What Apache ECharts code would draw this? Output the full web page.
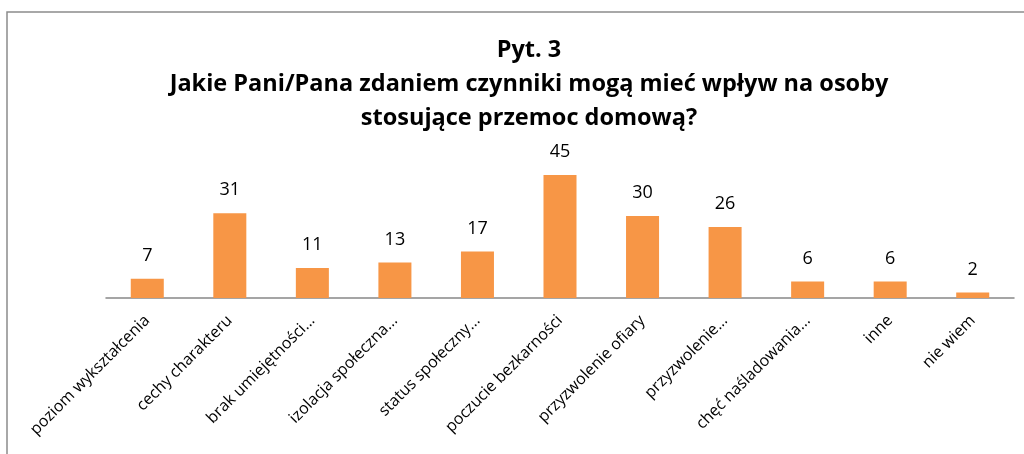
<!DOCTYPE html>
<html>
<head>
<meta charset="utf-8">
<script src="https://cdn.jsdelivr.net/npm/echarts@6/dist/echarts.min.js"></script>
<style>
  html, body { margin: 0; padding: 0; background: #fff; }
  #chart { width: 1024px; height: 454px; }
</style>
</head>
<body>
<div id="chart"></div>
<script>
// kategorie odpowiedzi
const categories = [
  "poziom wykształcenia",
  "cechy charakteru",
  "brak umiejętności...",
  "izolacja społeczna...",
  "status społeczny...",
  "poczucie bezkarności",
  "przyzwolenie ofiary",
  "przyzwolenie...",
  "chęć naśladowania...",
  "inne",
  "nie wiem"
];
// liczba odpowiedzi
const values = [7, 31, 11, 13, 17, 45, 30, 26, 6, 6, 2];

const titleLines = [
  "Pyt. 3",
  "Jakie Pani/Pana zdaniem czynniki mogą mieć wpływ na osoby",
  "stosujące przemoc domową?"
];

const chart = echarts.init(document.getElementById("chart"));
const font = "'Open Sans', sans-serif";

chart.setOption({
  animation: false,
  title: {
    text: titleLines.join("\n"),
    left: 524,
    top: 28,
    textAlign: "center",
    textStyle: {
      fontFamily: font,
      fontSize: 23.5,
      fontWeight: "bold",
      color: "#000",
      lineHeight: 34
    }
  },
  graphic: [{
    type: "rect",
    shape: { x: 7, y: 12, width: 1100, height: 600 },
    style: { fill: null, stroke: "#8c8c8c", lineWidth: 1.5 },
    silent: true
  }],
  grid: {
    left: 106,
    right: 10,
    top: 175,
    bottom: 156
  },
  xAxis: {
    type: "category",
    data: categories,
    axisTick: { show: false },
    axisLine: { lineStyle: { color: "#888", width: 1.5 } },
    axisLabel: {
      rotate: 45,
      interval: 0,
      margin: 20,
      fontFamily: font,
      fontSize: 16,
      color: "#000"
    }
  },
  yAxis: {
    type: "value",
    min: 0,
    max: 45,
    show: false,
    splitLine: { show: false }
  },
  series: [{
    type: "bar",
    data: values,
    barWidth: "40%",
    itemStyle: { color: "#F79646" },
    label: {
      show: true,
      position: "top",
      distance: 14,
      fontFamily: font,
      fontSize: 18,
      color: "#000"
    }
  }]
});
</script>
</body>
</html>
